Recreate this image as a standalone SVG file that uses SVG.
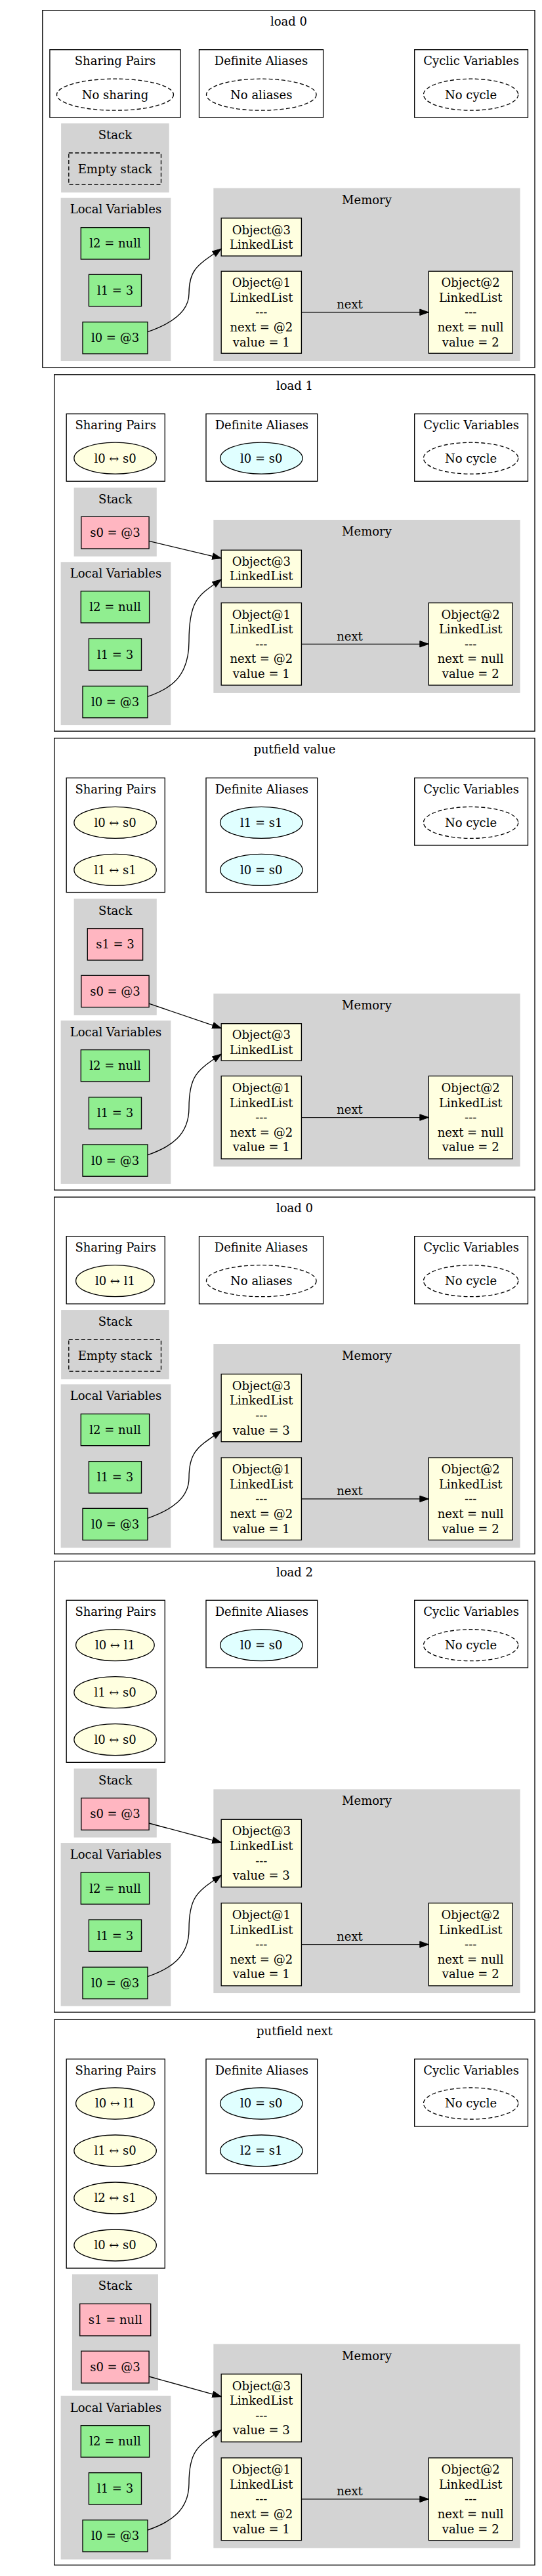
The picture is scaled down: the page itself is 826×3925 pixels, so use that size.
<svg xmlns="http://www.w3.org/2000/svg" width="826" height="3925" viewBox="0 0 826 3925">
<style>
text{font-family:"DejaVu Serif","Liberation Serif",serif;font-size:18px;text-anchor:middle;fill:#000}
.panel,.box{fill:#fff;stroke:#000;stroke-width:1.33}
.grey{fill:#d3d3d3;stroke:#d3d3d3;stroke-width:1.33}
.lv{fill:#90ee90;stroke:#000;stroke-width:1.33}
.st{fill:#ffb6c1;stroke:#000;stroke-width:1.33}
.obj{fill:#ffffe0;stroke:#000;stroke-width:1.33}
.sp{fill:#ffffe0;stroke:#000;stroke-width:1.33}
.al{fill:#e0ffff;stroke:#000;stroke-width:1.33}
.dash{fill:none;stroke:#000;stroke-width:1.33;stroke-dasharray:6,3.5}
.edge{fill:none;stroke:#000;stroke-width:1.33;marker-end:url(#arr)}
</style>
<defs>
<marker id="arr" markerUnits="userSpaceOnUse" markerWidth="15" markerHeight="11" viewBox="0 0 15 11" refX="14" refY="5.5" orient="auto"><path d="M0.5,0.8 L14,5.5 L0.5,10.2 z" fill="#000" stroke="#000" stroke-width="1"/></marker>
</defs>
<rect width="826" height="3925" fill="#fff"/>

<!-- ===== Panel 1 : load 0 ===== -->
<g id="p1">
<rect class="panel" x="64.8" y="15.7" width="750.2" height="544.3"/>
<text x="439.9" y="38.7">load 0</text>
<g id="p1-sharing"><rect class="box" x="75.9" y="75.7" width="199.1" height="103.3"/><text x="175.5" y="99">Sharing Pairs</text></g>
<g id="p1-nosharing"><ellipse class="dash" cx="175.5" cy="144.2" rx="89" ry="24"/><text x="175.5" y="150.5">No sharing</text></g>
<g id="p1-aliases"><rect class="box" x="303.5" y="75.7" width="189.1" height="103.3"/><text x="398" y="99">Definite Aliases</text></g>
<g id="p1-noaliases"><ellipse class="dash" cx="398.3" cy="144.2" rx="83.8" ry="24"/><text x="398.3" y="150.5">No aliases</text></g>
<g id="p1-cyclic"><rect class="box" x="631.7" y="75.7" width="172.8" height="103.3"/><text x="718.1" y="99">Cyclic Variables</text></g>
<g id="p1-nocycle"><ellipse class="dash" cx="717.6" cy="144.2" rx="72.2" ry="24"/><text x="717.6" y="150.5">No cycle</text></g>
<g id="p1-stack"><rect class="grey" x="93.8" y="188.7" width="163.2" height="104"/><text x="175.4" y="212">Stack</text></g>
<g id="p1-emptystack"><rect class="dash" x="104.8" y="233" width="140.7" height="48.3"/><text x="175.2" y="263.5">Empty stack</text></g>
<g id="p1-locals"><rect class="grey" x="93.3" y="302.3" width="166.4" height="247.1"/><text x="176.5" y="325.3">Local Variables</text></g>
<g id="p1-l2"><rect class="lv" x="123.3" y="346.7" width="104.3" height="48.3"/><text x="175.5" y="377">l2 = null</text></g>
<g id="p1-l1"><rect class="lv" x="135.4" y="418.3" width="80.1" height="48.3"/><text x="175.5" y="448.8">l1 = 3</text></g>
<g id="p1-l0"><rect class="lv" x="126" y="490.7" width="99" height="48.3"/><text x="175.5" y="521.2">l0 = @3</text></g>
<g id="p1-memory"><rect class="grey" x="326" y="287.3" width="466" height="262.1"/><text x="559" y="310.5">Memory</text></g>
<g id="p1-obj3"><rect class="obj" x="337.2" y="332.3" width="122.2" height="57.7"/><text x="398.3" y="356.6">Object@3</text><text x="398.3" y="379.2">LinkedList</text></g>
<g id="p1-obj1"><rect class="obj" x="337.2" y="413.3" width="122.2" height="125"/><text x="398.3" y="437.1">Object@1</text><text x="398.3" y="459.7">LinkedList</text><text x="398.3" y="482.3">---</text><text x="398.3" y="504.9">next = @2</text><text x="398.3" y="527.5">value = 1</text></g>
<g id="p1-obj2"><rect class="obj" x="653.3" y="413.3" width="127.7" height="125"/><text x="717.2" y="437.1">Object@2</text><text x="717.2" y="459.7">LinkedList</text><text x="717.2" y="482.3">---</text><text x="717.2" y="504.9">next = null</text><text x="717.2" y="527.5">value = 2</text></g>
</g>

<!-- ===== Panel 2 : load 1 ===== -->
<g id="p2">
<rect class="panel" x="82.7" y="570.8" width="732.3" height="543.3"/>
<text x="448.9" y="593.6">load 1</text>
<g id="p2-sharing"><rect class="box" x="101.2" y="630.6" width="150.1" height="102.7"/><text x="176.2" y="654">Sharing Pairs</text></g>
<g id="p2-sp1"><ellipse class="sp" cx="175.6" cy="698.2" rx="62.7" ry="24"/><text x="175.6" y="704.5">l0 ↔ s0</text></g>
<g id="p2-aliases"><rect class="box" x="314" y="630.6" width="169.7" height="102.7"/><text x="398.9" y="654">Definite Aliases</text></g>
<g id="p2-al1"><ellipse class="al" cx="398.3" cy="698.2" rx="62.7" ry="24"/><text x="398.3" y="704.5">l0 = s0</text></g>
<g id="p2-cyclic"><rect class="box" x="631.7" y="630.6" width="172.8" height="102.7"/><text x="718.1" y="654">Cyclic Variables</text></g>
<g id="p2-nocycle"><ellipse class="dash" cx="717.6" cy="698.2" rx="72.2" ry="24"/><text x="717.6" y="704.5">No cycle</text></g>
<g id="p2-stack"><rect class="grey" x="113.3" y="743.6" width="124.8" height="103.5"/><text x="175.7" y="767">Stack</text></g>
<g id="p2-s0"><rect class="st" x="123.8" y="787.3" width="103.3" height="48.7"/><text x="175.5" y="817.9">s0 = @3</text></g>
<g id="p2-locals"><rect class="grey" x="93.3" y="857" width="166.4" height="247.3"/><text x="176.5" y="880">Local Variables</text></g>
<g id="p2-l2"><rect class="lv" x="123.3" y="900.7" width="104.3" height="48.3"/><text x="175.5" y="931.2">l2 = null</text></g>
<g id="p2-l1"><rect class="lv" x="135.4" y="973" width="80.1" height="48.3"/><text x="175.5" y="1003.5">l1 = 3</text></g>
<g id="p2-l0"><rect class="lv" x="126" y="1045.4" width="99" height="48.3"/><text x="175.5" y="1075.9">l0 = @3</text></g>
<g id="p2-memory"><rect class="grey" x="326" y="792.7" width="466" height="262.5"/><text x="559" y="816">Memory</text></g>
<g id="p2-obj3"><rect class="obj" x="337.2" y="838.2" width="122.2" height="56.7"/><text x="398.3" y="861.7">Object@3</text><text x="398.3" y="884.3">LinkedList</text></g>
<g id="p2-obj1"><rect class="obj" x="337.2" y="918.6" width="122.2" height="125.4"/><text x="398.3" y="942.6">Object@1</text><text x="398.3" y="965.2">LinkedList</text><text x="398.3" y="987.8">---</text><text x="398.3" y="1010.4">next = @2</text><text x="398.3" y="1033">value = 1</text></g>
<g id="p2-obj2"><rect class="obj" x="653.3" y="918.6" width="127.7" height="125.4"/><text x="717.2" y="942.6">Object@2</text><text x="717.2" y="965.2">LinkedList</text><text x="717.2" y="987.8">---</text><text x="717.2" y="1010.4">next = null</text><text x="717.2" y="1033">value = 2</text></g>
</g>

<!-- ===== Panel 3 : putfield value ===== -->
<g id="p3">
<rect class="panel" x="82.7" y="1124.8" width="732.3" height="688.4"/>
<text x="448.9" y="1148">putfield value</text>
<g id="p3-sharing"><rect class="box" x="101.2" y="1185.3" width="150.1" height="174.3"/><text x="176.2" y="1208.7">Sharing Pairs</text></g>
<g id="p3-sp1"><ellipse class="sp" cx="175.6" cy="1253.4" rx="62.7" ry="24"/><text x="175.6" y="1259.7">l0 ↔ s0</text></g>
<g id="p3-sp2"><ellipse class="sp" cx="175.6" cy="1325.4" rx="62.7" ry="24"/><text x="175.6" y="1331.7">l1 ↔ s1</text></g>
<g id="p3-aliases"><rect class="box" x="314" y="1185.3" width="169.7" height="174.3"/><text x="398.9" y="1208.7">Definite Aliases</text></g>
<g id="p3-al1"><ellipse class="al" cx="398.3" cy="1253.4" rx="62.7" ry="24"/><text x="398.3" y="1259.7">l1 = s1</text></g>
<g id="p3-al2"><ellipse class="al" cx="398.3" cy="1325.4" rx="62.7" ry="24"/><text x="398.3" y="1331.7">l0 = s0</text></g>
<g id="p3-cyclic"><rect class="box" x="631.7" y="1185.3" width="172.8" height="102.7"/><text x="718.1" y="1208.7">Cyclic Variables</text></g>
<g id="p3-nocycle"><ellipse class="dash" cx="717.6" cy="1253.4" rx="72.2" ry="24"/><text x="717.6" y="1259.7">No cycle</text></g>
<g id="p3-stack"><rect class="grey" x="113.3" y="1370.1" width="124.8" height="176.1"/><text x="175.7" y="1393.5">Stack</text></g>
<g id="p3-s1"><rect class="st" x="133.3" y="1414.7" width="84.3" height="48.3"/><text x="175.5" y="1445.2">s1 = 3</text></g>
<g id="p3-s0"><rect class="st" x="123.8" y="1486.3" width="103.3" height="48.3"/><text x="175.5" y="1516.8">s0 = @3</text></g>
<g id="p3-locals"><rect class="grey" x="93.3" y="1555.6" width="166.4" height="247.6"/><text x="176.5" y="1578.8">Local Variables</text></g>
<g id="p3-l2"><rect class="lv" x="123.3" y="1599.6" width="104.3" height="48.3"/><text x="175.5" y="1630.1">l2 = null</text></g>
<g id="p3-l1"><rect class="lv" x="135.4" y="1671.8" width="80.1" height="48.3"/><text x="175.5" y="1702.3">l1 = 3</text></g>
<g id="p3-l0"><rect class="lv" x="126" y="1744" width="99" height="48.3"/><text x="175.5" y="1774.5">l0 = @3</text></g>
<g id="p3-memory"><rect class="grey" x="326" y="1514.5" width="466" height="262.3"/><text x="559" y="1537.8">Memory</text></g>
<g id="p3-obj3"><rect class="obj" x="337.2" y="1559.7" width="122.2" height="56.3"/><text x="398.3" y="1583">Object@3</text><text x="398.3" y="1605.6">LinkedList</text></g>
<g id="p3-obj1"><rect class="obj" x="337.2" y="1639.5" width="122.2" height="126.2"/><text x="398.3" y="1663.9">Object@1</text><text x="398.3" y="1686.5">LinkedList</text><text x="398.3" y="1709.1">---</text><text x="398.3" y="1731.7">next = @2</text><text x="398.3" y="1754.3">value = 1</text></g>
<g id="p3-obj2"><rect class="obj" x="653.3" y="1639.5" width="127.7" height="126.2"/><text x="717.2" y="1663.9">Object@2</text><text x="717.2" y="1686.5">LinkedList</text><text x="717.2" y="1709.1">---</text><text x="717.2" y="1731.7">next = null</text><text x="717.2" y="1754.3">value = 2</text></g>
</g>

<!-- ===== Panel 4 : load 0 ===== -->
<g id="p4">
<rect class="panel" x="82.7" y="1824" width="732.3" height="543.7"/>
<text x="448.9" y="1846.8">load 0</text>
<g id="p4-sharing"><rect class="box" x="101.2" y="1883.7" width="150.1" height="103"/><text x="176.2" y="1907">Sharing Pairs</text></g>
<g id="p4-sp1"><ellipse class="sp" cx="175.4" cy="1951.7" rx="59.8" ry="24"/><text x="175.4" y="1958">l0 ↔ l1</text></g>
<g id="p4-aliases"><rect class="box" x="303.5" y="1883.7" width="189.1" height="103"/><text x="398" y="1907">Definite Aliases</text></g>
<g id="p4-noaliases"><ellipse class="dash" cx="398.3" cy="1951.7" rx="83.8" ry="24"/><text x="398.3" y="1958">No aliases</text></g>
<g id="p4-cyclic"><rect class="box" x="631.7" y="1883.7" width="172.8" height="103"/><text x="718.1" y="1907">Cyclic Variables</text></g>
<g id="p4-nocycle"><ellipse class="dash" cx="717.6" cy="1951.7" rx="72.2" ry="24"/><text x="717.6" y="1958">No cycle</text></g>
<g id="p4-stack"><rect class="grey" x="93.8" y="1996.7" width="163.2" height="104"/><text x="175.4" y="2020">Stack</text></g>
<g id="p4-emptystack"><rect class="dash" x="104.8" y="2041" width="140.7" height="48.3"/><text x="175.2" y="2071.5">Empty stack</text></g>
<g id="p4-locals"><rect class="grey" x="93.3" y="2110" width="166.4" height="247.7"/><text x="176.5" y="2133.3">Local Variables</text></g>
<g id="p4-l2"><rect class="lv" x="123.3" y="2154.4" width="104.3" height="48.3"/><text x="175.5" y="2184.9">l2 = null</text></g>
<g id="p4-l1"><rect class="lv" x="135.4" y="2226.7" width="80.1" height="48.3"/><text x="175.5" y="2257.2">l1 = 3</text></g>
<g id="p4-l0"><rect class="lv" x="126" y="2298.3" width="99" height="48.3"/><text x="175.5" y="2328.8">l0 = @3</text></g>
<g id="p4-memory"><rect class="grey" x="326" y="2048.7" width="466" height="309"/><text x="559" y="2072">Memory</text></g>
<g id="p4-obj3"><rect class="obj" x="337.2" y="2093.7" width="122.2" height="103"/><text x="398.3" y="2117.8">Object@3</text><text x="398.3" y="2140.4">LinkedList</text><text x="398.3" y="2163">---</text><text x="398.3" y="2185.6">value = 3</text></g>
<g id="p4-obj1"><rect class="obj" x="337.2" y="2221" width="122.2" height="125.5"/><text x="398.3" y="2245.1">Object@1</text><text x="398.3" y="2267.7">LinkedList</text><text x="398.3" y="2290.3">---</text><text x="398.3" y="2312.9">next = @2</text><text x="398.3" y="2335.5">value = 1</text></g>
<g id="p4-obj2"><rect class="obj" x="653.3" y="2221" width="127.7" height="125.5"/><text x="717.2" y="2245.1">Object@2</text><text x="717.2" y="2267.7">LinkedList</text><text x="717.2" y="2290.3">---</text><text x="717.2" y="2312.9">next = null</text><text x="717.2" y="2335.5">value = 2</text></g>
</g>

<!-- ===== Panel 5 : load 2 ===== -->
<g id="p5">
<rect class="panel" x="82.7" y="2378.7" width="732.3" height="687.3"/>
<text x="448.9" y="2401.7">load 2</text>
<g id="p5-sharing"><rect class="box" x="101.2" y="2438.3" width="150.1" height="247"/><text x="176.2" y="2461.6">Sharing Pairs</text></g>
<g id="p5-sp1"><ellipse class="sp" cx="175.4" cy="2506.7" rx="59.8" ry="24"/><text x="175.4" y="2513">l0 ↔ l1</text></g>
<g id="p5-sp2"><ellipse class="sp" cx="175.6" cy="2578.7" rx="62.7" ry="24"/><text x="175.6" y="2585">l1 ↔ s0</text></g>
<g id="p5-sp3"><ellipse class="sp" cx="175.6" cy="2650.7" rx="62.7" ry="24"/><text x="175.6" y="2657">l0 ↔ s0</text></g>
<g id="p5-aliases"><rect class="box" x="314" y="2438.3" width="169.7" height="102.7"/><text x="398.9" y="2461.6">Definite Aliases</text></g>
<g id="p5-al1"><ellipse class="al" cx="398.3" cy="2506.7" rx="62.7" ry="24"/><text x="398.3" y="2513">l0 = s0</text></g>
<g id="p5-cyclic"><rect class="box" x="631.7" y="2438.3" width="172.8" height="102.7"/><text x="718.1" y="2461.6">Cyclic Variables</text></g>
<g id="p5-nocycle"><ellipse class="dash" cx="717.6" cy="2506.7" rx="72.2" ry="24"/><text x="717.6" y="2513">No cycle</text></g>
<g id="p5-stack"><rect class="grey" x="113.3" y="2695.3" width="124.8" height="103.7"/><text x="175.7" y="2718.6">Stack</text></g>
<g id="p5-s0"><rect class="st" x="123.8" y="2739.7" width="103.3" height="48.6"/><text x="175.5" y="2770.2">s0 = @3</text></g>
<g id="p5-locals"><rect class="grey" x="93.3" y="2808.7" width="166.4" height="247.3"/><text x="176.5" y="2832">Local Variables</text></g>
<g id="p5-l2"><rect class="lv" x="123.3" y="2853" width="104.3" height="48.3"/><text x="175.5" y="2883.5">l2 = null</text></g>
<g id="p5-l1"><rect class="lv" x="135.4" y="2925" width="80.1" height="48.3"/><text x="175.5" y="2955.5">l1 = 3</text></g>
<g id="p5-l0"><rect class="lv" x="126" y="2997.3" width="99" height="48.3"/><text x="175.5" y="3027.8">l0 = @3</text></g>
<g id="p5-memory"><rect class="grey" x="326" y="2727" width="466" height="309.3"/><text x="559" y="2750.3">Memory</text></g>
<g id="p5-obj3"><rect class="obj" x="337.2" y="2772.3" width="122.2" height="103"/><text x="398.3" y="2796.4">Object@3</text><text x="398.3" y="2819">LinkedList</text><text x="398.3" y="2841.6">---</text><text x="398.3" y="2864.2">value = 3</text></g>
<g id="p5-obj1"><rect class="obj" x="337.2" y="2899.7" width="122.2" height="126"/><text x="398.3" y="2924">Object@1</text><text x="398.3" y="2946.6">LinkedList</text><text x="398.3" y="2969.2">---</text><text x="398.3" y="2991.8">next = @2</text><text x="398.3" y="3014.4">value = 1</text></g>
<g id="p5-obj2"><rect class="obj" x="653.3" y="2899.7" width="127.7" height="126"/><text x="717.2" y="2924">Object@2</text><text x="717.2" y="2946.6">LinkedList</text><text x="717.2" y="2969.2">---</text><text x="717.2" y="2991.8">next = null</text><text x="717.2" y="3014.4">value = 2</text></g>
</g>

<!-- ===== Panel 6 : putfield next ===== -->
<g id="p6">
<rect class="panel" x="82.7" y="3077.3" width="732.3" height="831"/>
<text x="448.9" y="3100.7">putfield next</text>
<g id="p6-sharing"><rect class="box" x="101.2" y="3137.3" width="150.1" height="318.7"/><text x="176.2" y="3160.6">Sharing Pairs</text></g>
<g id="p6-sp1"><ellipse class="sp" cx="175.4" cy="3205" rx="59.8" ry="24"/><text x="175.4" y="3211.3">l0 ↔ l1</text></g>
<g id="p6-sp2"><ellipse class="sp" cx="175.6" cy="3277" rx="62.7" ry="24"/><text x="175.6" y="3283.3">l1 ↔ s0</text></g>
<g id="p6-sp3"><ellipse class="sp" cx="175.6" cy="3349" rx="62.7" ry="24"/><text x="175.6" y="3355.3">l2 ↔ s1</text></g>
<g id="p6-sp4"><ellipse class="sp" cx="175.6" cy="3421" rx="62.7" ry="24"/><text x="175.6" y="3427.3">l0 ↔ s0</text></g>
<g id="p6-aliases"><rect class="box" x="314" y="3137.3" width="169.7" height="174.7"/><text x="398.9" y="3160.6">Definite Aliases</text></g>
<g id="p6-al1"><ellipse class="al" cx="398.3" cy="3205" rx="62.7" ry="24"/><text x="398.3" y="3211.3">l0 = s0</text></g>
<g id="p6-al2"><ellipse class="al" cx="398.3" cy="3277" rx="62.7" ry="24"/><text x="398.3" y="3283.3">l2 = s1</text></g>
<g id="p6-cyclic"><rect class="box" x="631.7" y="3137.3" width="172.8" height="102.7"/><text x="718.1" y="3160.6">Cyclic Variables</text></g>
<g id="p6-nocycle"><ellipse class="dash" cx="717.6" cy="3205" rx="72.2" ry="24"/><text x="717.6" y="3211.3">No cycle</text></g>
<g id="p6-stack"><rect class="grey" x="110.6" y="3466" width="129.7" height="175.7"/><text x="175.5" y="3489.3">Stack</text></g>
<g id="p6-s1"><rect class="st" x="121.7" y="3510.3" width="108" height="48.7"/><text x="175.7" y="3541">s1 = null</text></g>
<g id="p6-s0"><rect class="st" x="123.8" y="3582.3" width="103.3" height="48.7"/><text x="175.5" y="3612.9">s0 = @3</text></g>
<g id="p6-locals"><rect class="grey" x="93.3" y="3651.3" width="166.4" height="247.7"/><text x="176.5" y="3674.6">Local Variables</text></g>
<g id="p6-l2"><rect class="lv" x="123.3" y="3695.7" width="104.3" height="48.3"/><text x="175.5" y="3726.2">l2 = null</text></g>
<g id="p6-l1"><rect class="lv" x="135.4" y="3767.7" width="80.1" height="48.3"/><text x="175.5" y="3798.2">l1 = 3</text></g>
<g id="p6-l0"><rect class="lv" x="126" y="3839.7" width="99" height="48.3"/><text x="175.5" y="3870.2">l0 = @3</text></g>
<g id="p6-memory"><rect class="grey" x="326" y="3572.3" width="466" height="309.4"/><text x="559" y="3595.6">Memory</text></g>
<g id="p6-obj3"><rect class="obj" x="337.2" y="3617.3" width="122.2" height="103.4"/><text x="398.3" y="3641.6">Object@3</text><text x="398.3" y="3664.2">LinkedList</text><text x="398.3" y="3686.8">---</text><text x="398.3" y="3709.4">value = 3</text></g>
<g id="p6-obj1"><rect class="obj" x="337.2" y="3745" width="122.2" height="125.7"/><text x="398.3" y="3769.1">Object@1</text><text x="398.3" y="3791.7">LinkedList</text><text x="398.3" y="3814.3">---</text><text x="398.3" y="3836.9">next = @2</text><text x="398.3" y="3859.5">value = 1</text></g>
<g id="p6-obj2"><rect class="obj" x="653.3" y="3745" width="127.7" height="125.7"/><text x="717.2" y="3769.1">Object@2</text><text x="717.2" y="3791.7">LinkedList</text><text x="717.2" y="3814.3">---</text><text x="717.2" y="3836.9">next = null</text><text x="717.2" y="3859.5">value = 2</text></g>
</g>

<!-- ===== Connectors ===== -->
<g id="connectors">
<g id="p1-edges">
<path class="edge" d="M225,505.6 C260,493.6 288,475.6 288,447.3 C288,409 303,403 337.2,379"/>
<path class="edge" d="M459.4,475.8 L653.3,475.8"/><text x="533" y="470">next</text>
</g>
<g id="p2-edges">
<path class="edge" d="M227,824.4 L337.2,850.7"/>
<path class="edge" d="M225,1061.4 C260,1049.4 288,1031.4 288,977 C288,912.9 303,906.9 337.2,882.9"/>
<path class="edge" d="M459.4,981.3 L653.3,981.3"/><text x="533" y="975.5">next</text>
</g>
<g id="p3-edges">
<path class="edge" d="M227,1529.2 L337.2,1566.7"/>
<path class="edge" d="M225,1759.8 C260,1747.8 288,1729.8 288,1687.9 C288,1636 303,1630 337.2,1606"/>
<path class="edge" d="M459.4,1702.6 L653.3,1702.6"/><text x="533" y="1696.8">next</text>
</g>
<g id="p4-edges">
<path class="edge" d="M225,2313.3 C260,2301.3 288,2283.3 288,2251.7 C288,2210 303,2204 337.2,2180"/>
<path class="edge" d="M459.4,2283.8 L653.3,2283.8"/><text x="533" y="2278">next</text>
</g>
<g id="p5-edges">
<path class="edge" d="M227,2778 L337.2,2807.3"/>
<path class="edge" d="M225,3011.7 C260,2999.7 288,2981.7 288,2939.5 C288,2887.3 303,2881.3 337.2,2857.3"/>
<path class="edge" d="M459.4,2962.7 L653.3,2962.7"/><text x="533" y="2956.9">next</text>
</g>
<g id="p6-edges">
<path class="edge" d="M227,3621 L337.2,3651.7"/>
<path class="edge" d="M225,3855 C260,3843 288,3825 288,3783.7 C288,3732.3 303,3726.3 337.2,3702.3"/>
<path class="edge" d="M459.4,3807.8 L653.3,3807.8"/><text x="533" y="3802">next</text>
</g>
</g>
</svg>
